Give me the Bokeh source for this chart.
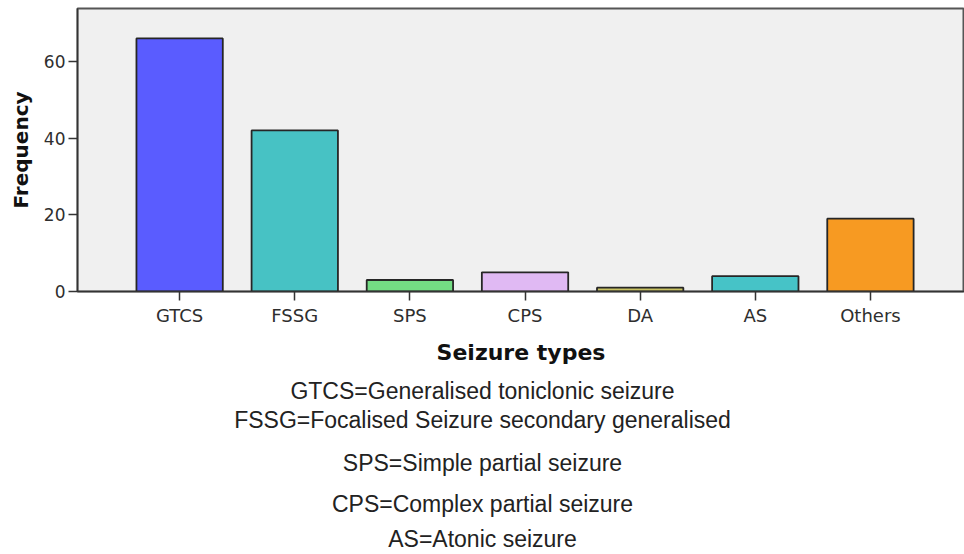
from bokeh.plotting import figure
from bokeh.models import Range1d, FixedTicker, Label, ColumnDataSource
from bokeh.layouts import column
from bokeh.embed import file_html
from bokeh.resources import INLINE

categories = ["GTCS", "FSSG", "SPS", "CPS", "DA", "AS", "Others"]
frequency = [66, 42, 3, 5, 1, 4, 19]
bar_colors = ["#5a5cff", "#47c2c4", "#74dc84", "#e0b9f3", "#c9c262", "#46c3c7", "#f79a22"]
y_ticks = [0, 20, 40, 60]
notes = [
    "GTCS=Generalised toniclonic seizure",
    "FSSG=Focalised Seizure secondary generalised",
    "SPS=Simple partial seizure",
    "CPS=Complex partial seizure",
    "AS=Atonic seizure",
]
note_offsets = [164, 135, 92, 51, 16]

xs = list(range(len(categories)))
src = ColumnDataSource(dict(x=xs, top=frequency, color=bar_colors))

p = figure(width=964, height=370, output_backend="svg", toolbar_location=None,
           x_range=Range1d(-0.887, 6.817), y_range=Range1d(0, 73.8),
           min_border_left=77, min_border_right=0, min_border_top=8, min_border_bottom=79)

p.vbar(x="x", top="top", width=0.75, bottom=0, source=src, fill_color="color",
       line_color="#262626", line_width=1.8)

p.background_fill_color = "#f0f0f0"
p.border_fill_color = "white"
p.outline_line_color = "#555555"
p.outline_line_width = 2
p.xgrid.visible = False
p.ygrid.visible = False

p.xaxis.ticker = FixedTicker(ticks=xs)
p.xaxis.major_label_overrides = {i: c for i, c in enumerate(categories)}
p.xaxis.axis_label = "Seizure types"
p.yaxis.ticker = FixedTicker(ticks=y_ticks)
p.yaxis.axis_label = "Frequency"

for ax in (p.xaxis, p.yaxis):
    ax.axis_line_color = "#333333"
    ax.axis_line_width = 1.5
    ax.major_tick_line_color = "#333333"
    ax.major_tick_line_width = 1.5
    ax.major_tick_out = 9
    ax.major_tick_in = 0
    ax.minor_tick_line_color = None
    ax.major_label_text_font = "DejaVu Sans"
    ax.major_label_text_color = "#2e2e2e"
    ax.axis_label_text_font = "DejaVu Sans"
    ax.axis_label_text_font_style = "bold"
    ax.axis_label_text_color = "#111111"

p.xaxis.major_label_text_font_size = "18px"
p.yaxis.major_label_text_font_size = "17px"
p.xaxis.axis_label_text_font_size = "22px"
p.yaxis.axis_label_text_font_size = "20px"
p.xaxis.major_label_standoff = 4
p.xaxis.axis_label_standoff = 11
p.yaxis.major_label_standoff = 3
p.yaxis.axis_label_standoff = 8

notes_fig = figure(width=964, height=184, output_backend="svg", toolbar_location=None,
                   x_range=Range1d(0, 1), y_range=Range1d(0, 1),
                   min_border_left=0, min_border_right=0, min_border_top=0, min_border_bottom=0)
notes_fig.axis.visible = False
notes_fig.grid.visible = False
notes_fig.outline_line_color = None
notes_fig.background_fill_color = "white"

for txt, off in zip(notes, note_offsets):
    notes_fig.add_layout(Label(x=405, y=off, x_units="screen", y_units="screen", text=txt,
                               text_align="center", text_baseline="middle",
                               text_font="Liberation Sans", text_font_size="23px",
                               text_color="#222222"))

layout = column(p, notes_fig, spacing=0)
open("out.html", "w").write(file_html(layout, INLINE))
